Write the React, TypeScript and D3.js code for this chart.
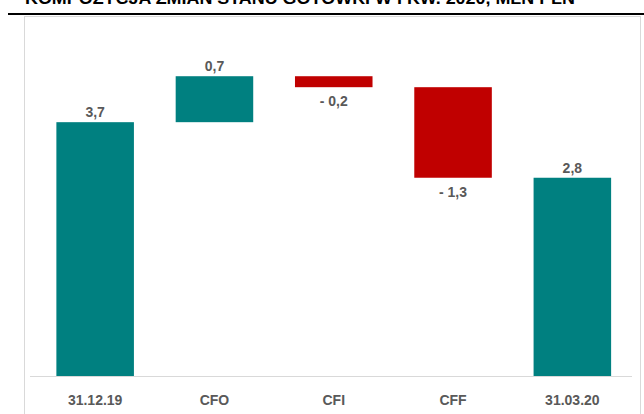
import * as d3 from "d3";

const categories = ["31.12.19", "CFO", "CFI", "CFF", "31.03.20"];
const kinds = ["total", "delta", "delta", "delta", "total"];
const values = [3.7, 0.67, -0.16, -1.32, 2.89];
const valueLabels = ["3,7", "0,7", "- 0,2", "- 1,3", "2,8"];
const title = "KOMPOZYCJA ZMIAN STANU GOTÓWKI W I KW. 2020, MLN PLN";

const W = 644;
const H = 414;
const baseY = 376;
const TEAL = "#008080";
const RED = "#c00000";
const TXT = "#595959";

export default function App() {
  const x = d3.scaleBand<string>()
    .domain(categories)
    .range([35.5, 632])
    .paddingInner(0.35)
    .paddingOuter(0.175);
  const y = d3.scaleLinear().domain([0, 5]).range([baseY, baseY - 343]);

  // running total for the waterfall
  let run = 0;
  const bars = categories.map((c, i) => {
    let lo, hi;
    if (kinds[i] === "total") {
      run = values[i];
      lo = 0;
      hi = values[i];
    } else {
      const start = run;
      run = run + values[i];
      lo = Math.min(start, run);
      hi = Math.max(start, run);
    }
    return { c, lo, hi, v: values[i], label: valueLabels[i], kind: kinds[i] };
  });

  const font = "'Liberation Sans', Arial, sans-serif";

  return (
    <svg width={W} height={H} style={{ position: "absolute", left: 0, top: 0, background: "#fff" }}>
      <text x={25} y={4} textLength={550} lengthAdjust="spacingAndGlyphs" fontFamily={font} fontWeight="bold" fontSize={17} fill="#000">
        {title}
      </text>
      <line x1={8} x2={644} y1={14} y2={14} stroke="#000" strokeWidth={2} />
      <rect x={24.5} y={16.5} width={616} height={420} fill="none" stroke="#d9d9d9" strokeWidth={1} />

      <line x1={30} x2={632} y1={baseY + 0.5} y2={baseY + 0.5} stroke="#d9d9d9" strokeWidth={1} />

      {bars.map((b) => {
        const bx = x(b.c) as number;
        const bw = x.bandwidth();
        const top = y(b.hi);
        const bot = y(b.lo);
        const color = b.v < 0 ? RED : TEAL;
        const cx = bx + bw / 2;
        return (
          <g key={b.c}>
            <rect x={bx} y={top} width={bw} height={bot - top} fill={color} />
            <text
              x={cx}
              y={b.v < 0 ? bot + 19 : top - 5}
              textAnchor="middle"
              fontFamily={font}
              fontWeight="bold"
              fontSize={14}
              fill={TXT}
            >
              {b.label}
            </text>
            <text x={cx} y={405} textAnchor="middle" fontFamily={font} fontWeight="bold" fontSize={14} fill={TXT}>
              {b.c}
            </text>
          </g>
        );
      })}
    </svg>
  );
}
